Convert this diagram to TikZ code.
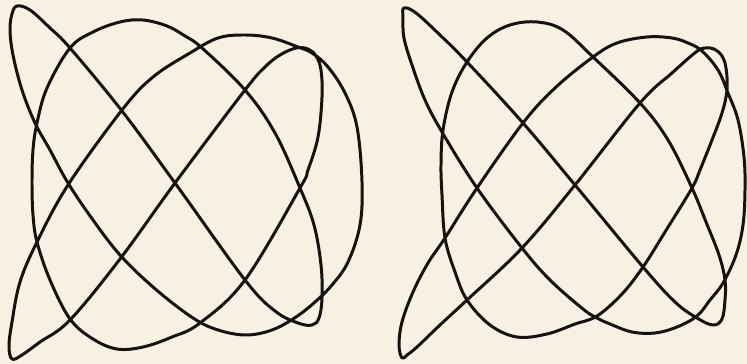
\documentclass[tikz,border=0pt]{standalone}
\usetikzlibrary{backgrounds}

\definecolor{paper}{RGB}{248,240,227}
\definecolor{ink}{RGB}{22,18,16}

\begin{document}
\begin{tikzpicture}[
  x=0.02cm, y=-0.02cm,
  trace/.style={draw=ink, line width=1.7pt, line join=round, line cap=round},
  sheet/.style={fill=paper}
]
% page
\fill[sheet] (0,0) rectangle (747,364);
\useasboundingbox (0,0) rectangle (747,364);

% left figure
\draw[trace] plot[smooth cycle, tension=0.6] coordinates {
  (17,6) (30,10) (50,28) (70,48) (122,111) (175,183) (245,280) (275,311) (298,323) (312,325)
  (319,318) (322,298) (321,265) (314,225) (300,188) (275,133) (245,90) (202,48) (185,36)
  (167,26) (143,20) (120,22) (93,32) (70,48) (47,88) (37,123) (33,150) (32,182)
  (33,215) (37,242) (50,280) (70,319) (93,339) (117,349) (143,347) (172,337) (200,323)
  (245,280) (300,188) (308,170) (318,137) (322,97) (321,70) (316,56) (308,49) (296,48) (280,55)
  (265,67) (245,90) (175,183) (120,259) (70,320) (40,342) (22,355)
  (12,359) (9,346) (12,322) (20,282) (37,242) (68,185) (122,110) (153,77) (190,53)
  (218,38) (245,35) (272,38) (298,47) (312,53) (328,67) (345,93) (357,127) (362,182)
  (360,225) (348,262) (332,285) (315,302) (296,317) (272,330) (245,335) (215,329) (190,316)
  (153,287) (120,255) (93,220) (68,183) (50,150) (35,123) (22,90) (13,55) (10,30) (12,14)};

% right figure
\draw[trace] plot[smooth cycle, tension=0.6] coordinates {
  (404,8) (416,13) (440,35) (467,62) (523,123) (575,185) (643,267) (675,302) (697,318) (713,325)
  (722,319) (725,300) (725,280) (719,255) (706,222) (692,188) (668,140) (640,103) (593,57)
  (563,30) (537,22) (510,25) (487,38) (467,62) (452,92) (443,130) (441,165) (442,195)
  (445,238) (455,272) (467,300) (490,325) (517,337) (547,334) (575,324) (597,316)
  (622,294) (643,267) (665,232) (692,188) (700,170) (712,140) (722,113) (727,90) (726,68) (722,56)
  (714,49) (705,48) (696,52) (672,73) (640,103) (575,185) (522,248) (467,300) (440,325) (417,347) (407,355)
  (402,358) (399,345) (402,322) (413,292) (428,263) (445,238) (477,188) (523,123) (555,88) (593,57)
  (617,43) (647,37) (672,38) (688,43) (702,51) (718,70) (728,93) (738,120) (744,157) (745,190)
  (743,225) (736,255) (723,283) (710,300) (697,316) (677,327) (655,333) (632,332) (610,324) (597,318)
  (583,309) (550,280) (522,248) (477,188) (442,132) (425,100) (412,65) (404,38) (403,18)};
\end{tikzpicture}
\end{document}
